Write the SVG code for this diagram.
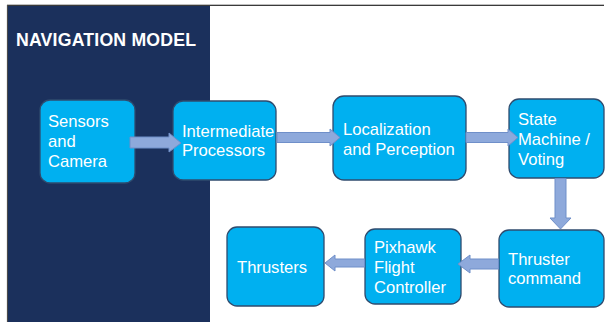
<svg xmlns="http://www.w3.org/2000/svg" width="605" height="322" viewBox="0 0 605 322">
  <style>
    .box { fill: #00B0F0; stroke: #2F4B6E; stroke-width: 1.3; }
    .lbl { font-family: "Liberation Sans", Arial, sans-serif; font-size: 16.6px; fill: #FFFFFF; }
    .title { font-family: "Liberation Sans", Arial, sans-serif; font-size: 17.7px; font-weight: bold; fill: #FFFFFF; }
    .arrow { fill: #8EA9DB; stroke: #6F8FC9; stroke-width: 1; }
  </style>

  <rect x="0" y="0" width="605" height="322" fill="#FFFFFF"/>

  <!-- frame lines -->
  <line x1="7" y1="4.5" x2="604" y2="4.5" stroke="#BFBFBF" stroke-width="1"/>
  <line x1="7" y1="5.5" x2="604" y2="5.5" stroke="#3A3A3A" stroke-width="1"/>
  <line x1="7.5" y1="5" x2="7.5" y2="322" stroke="#4A4A4A" stroke-width="1.2"/>

  <!-- navy side panel -->
  <rect x="8" y="6" width="202" height="316" fill="#1B305C"/>
  <text class="title" x="16" y="46" textLength="180">NAVIGATION MODEL</text>

  <g id="sensors">
    <rect class="box" x="40" y="100" width="95" height="83" rx="10"/>
    <text class="lbl" x="48" y="127">Sensors</text>
    <text class="lbl" x="48" y="147">and</text>
    <text class="lbl" x="48" y="167">Camera</text>
  </g>

  <g id="intermediate">
    <rect class="box" x="173" y="101" width="103" height="79" rx="10"/>
    <text class="lbl" x="182" y="137">Intermediate</text>
    <text class="lbl" x="182" y="156">Processors</text>
  </g>

  <g id="localization">
    <rect class="box" x="333" y="96" width="133" height="84" rx="11"/>
    <text class="lbl" x="343" y="135">Localization</text>
    <text class="lbl" x="343" y="155">and Perception</text>
  </g>

  <g id="state-machine">
    <rect class="box" x="509" y="99" width="95" height="79" rx="10"/>
    <text class="lbl" x="518" y="125">State</text>
    <text class="lbl" x="518" y="145">Machine /</text>
    <text class="lbl" x="518" y="165">Voting</text>
  </g>

  <g id="thruster-command">
    <rect class="box" x="499" y="230" width="105" height="77" rx="10"/>
    <text class="lbl" x="508" y="265">Thruster</text>
    <text class="lbl" x="508" y="284">command</text>
  </g>

  <g id="pixhawk">
    <rect class="box" x="365" y="229" width="96" height="75" rx="10"/>
    <text class="lbl" x="374" y="253">Pixhawk</text>
    <text class="lbl" x="374" y="273">Flight</text>
    <text class="lbl" x="374" y="293">Controller</text>
  </g>

  <g id="thrusters">
    <rect class="box" x="227" y="227" width="97" height="79" rx="10"/>
    <text class="lbl" x="237" y="273">Thrusters</text>
  </g>

  <!-- connectors, drawn over the box edges -->
  <g id="connectors">
    <polygon class="arrow" points="130,137 169,137 169,133 181,143 169,152 169,148 130,148"/>
    <polygon class="arrow" points="277,132.5 330,132.5 330,129 340,137.5 330,146 330,142.5 277,142.5"/>
    <polygon class="arrow" points="466,132.5 508,132.5 508,129 518,137.5 508,146 508,142.5 466,142.5"/>
    <polygon class="arrow" points="555,178.5 566,178.5 566,218 571,218 560.5,229 550,218 555,218"/>
    <polygon class="arrow" points="498.5,259 470,259 470,255 458,264 470,273 470,269 498.5,269"/>
    <polygon class="arrow" points="364.5,259 335,259 335,255 325,263 335,271 335,267 364.5,267"/>
  </g>
</svg>
